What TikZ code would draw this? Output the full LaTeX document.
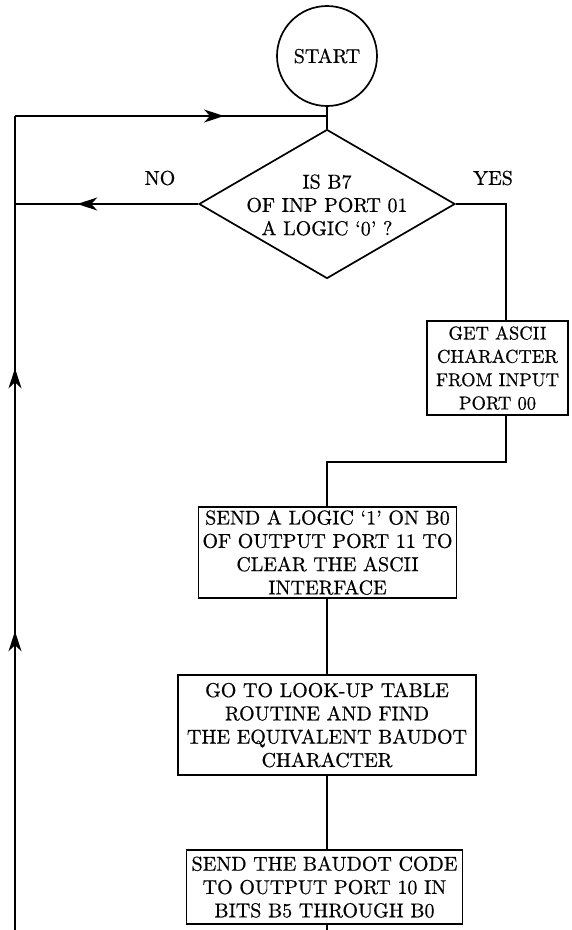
\documentclass[tikz,border=0pt]{standalone}
\usepackage{fontspec}
\setmainfont{lmroman10-regular}[Extension=.otf,FakeBold=0.6]
\usetikzlibrary{shapes.geometric,arrows.meta,decorations.markings}
\begin{document}
\begin{tikzpicture}[x=1pt,y=-1pt,
  >={Stealth[length=20pt,width=13pt,inset=6pt]},
  line/.style={line width=1.7pt},
  txt/.style={font=\fontsize{20}{23.3}\selectfont, align=center, inner sep=0pt},
  procbox/.style={draw, line width=1.7pt, txt, inner sep=0pt},
  midarrow/.style={postaction={decorate,decoration={markings,mark=at position #1 with {\arrow{>}}}}}
]
\useasboundingbox (0,0) rectangle (571,930);

\node[circle, draw, line width=1.7pt, minimum size=100pt, inner sep=0pt, txt] (start) at (327,56) {START};
\node[diamond, draw, line width=1.7pt, minimum width=256pt, minimum height=149pt, inner sep=0pt] (dia) at (327,204) {};
\node[txt] (diatxt) at (327,205) {IS B7\\OF INP PORT 01\\A LOGIC `0' ?};
\node[txt] (no) at (160,178) {NO};
\node[txt] (yes) at (493,178) {YES};

\node[procbox, minimum width=141pt, minimum height=94pt, font=\fontsize{18.5}{23.3}\selectfont] (getc) at (497.5,368) {GET ASCII\\CHARACTER\\FROM INPUT\\PORT 00};
\node[procbox, minimum width=258pt, minimum height=91pt] (send1) at (327.5,552.5) {SEND A LOGIC `1' ON B0\\OF OUTPUT PORT 11 TO\\CLEAR THE ASCII\\INTERFACE};
\node[procbox, minimum width=298pt, minimum height=100pt] (goto) at (327,725) {GO TO LOOK-UP TABLE\\ROUTINE AND FIND\\THE EQUIVALENT BAUDOT\\CHARACTER};
\node[procbox, minimum width=276pt, minimum height=74pt] (send2) at (324.5,887) {SEND THE BAUDOT CODE\\TO OUTPUT PORT 10 IN\\BITS B5 THROUGH B0};

\coordinate (j) at (327,116);
\coordinate (ltop) at (15,116);
\coordinate (lbot) at (15,930);
\coordinate (nol) at (15,204);
\coordinate (yr) at (506,204);
\coordinate (g1) at (506,462);
\coordinate (g2) at (327,462);
\coordinate (bot) at (327,930);

\draw[line] (start.south) -- (dia.north);
\draw[line, midarrow=0.367, midarrow=0.69] (lbot) -- (ltop);
\draw[line, midarrow=0.67] (ltop) -- (j);
\draw[line, midarrow=0.66] (dia.west) -- (nol);
\draw[line] (dia.east) -- (yr) -- (yr |- getc.north);
\draw[line] (g1 |- getc.south) -- (g1) -- (g2) -- (g2 |- send1.north);
\draw[line] (g2 |- send1.south) -- (g2 |- goto.north);
\draw[line] (g2 |- goto.south) -- (g2 |- send2.north);
\draw[line] (g2 |- send2.south) -- (bot);
\end{tikzpicture}
\end{document}
